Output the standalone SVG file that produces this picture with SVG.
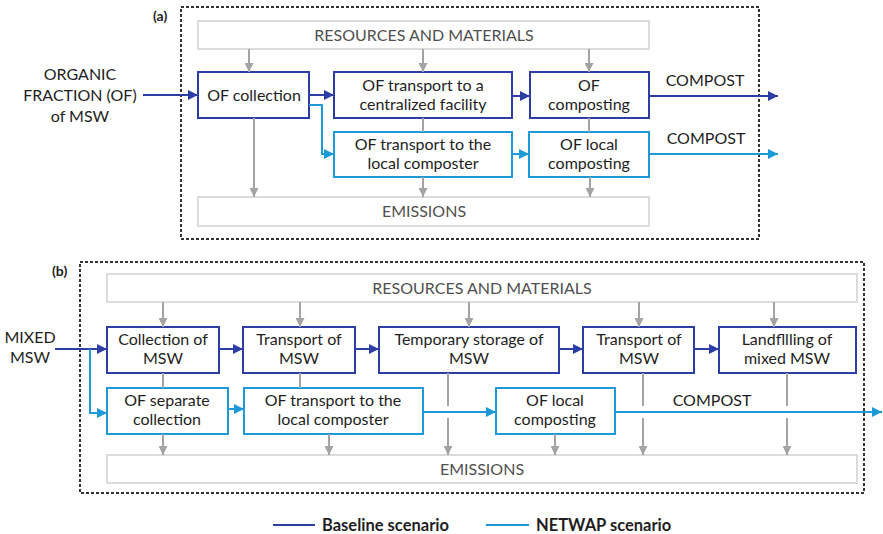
<svg xmlns="http://www.w3.org/2000/svg" width="883" height="534" viewBox="0 0 883 534">
  <defs>
    <marker id="ah-dark" viewBox="0 0 10 10" refX="10" refY="5" markerWidth="10" markerHeight="10" markerUnits="userSpaceOnUse" orient="auto">
      <path d="M0,0 L10,5 L0,10 z" fill="#2c3ea6"/>
    </marker>
    <marker id="ah-light" viewBox="0 0 10 10" refX="10" refY="5" markerWidth="10" markerHeight="10" markerUnits="userSpaceOnUse" orient="auto">
      <path d="M0,0 L10,5 L0,10 z" fill="#1b9ad7"/>
    </marker>
    <marker id="ah-gray" viewBox="0 0 10 10" refX="10" refY="5" markerWidth="9" markerHeight="9" markerUnits="userSpaceOnUse" orient="auto">
      <path d="M0,0 L10,5 L0,10 z" fill="#a3a3a3"/>
    </marker>
  </defs>
  <style>
    text { font-family: Lato, "Open Sans", "Liberation Sans", sans-serif; fill: #1e1e1e; }
    .lbl { font-size: 16px; text-anchor: middle; }
    .band-t { font-size: 16px; text-anchor: middle; fill: #505050; }
    .tag { font-size: 14px; font-weight: bold; }
    .leg { font-size: 16.5px; font-weight: bold; }
    .frame { fill: none; stroke: #333; stroke-width: 2; stroke-dasharray: 3 2; }
    .band { fill: #fff; stroke: #dcdcdc; stroke-width: 2; }
    .base { fill: #fff; stroke: #2c3ea6; stroke-width: 2; }
    .netw { fill: #fff; stroke: #1b9ad7; stroke-width: 2; }
    .c-dark { fill: none; stroke: #2c3ea6; stroke-width: 2; marker-end: url(#ah-dark); }
    .c-light { fill: none; stroke: #1b9ad7; stroke-width: 2; marker-end: url(#ah-light); }
    .c-gray { fill: none; stroke: #a3a3a3; stroke-width: 2; marker-end: url(#ah-gray); }
    .l-gray { fill: none; stroke: #a3a3a3; stroke-width: 2; }
  </style>

  <!-- Panel (a) -->
  <g id="panel-a">
    <rect class="frame" x="181" y="7" width="578" height="232"/>
    <text class="tag" x="153" y="21">(a)</text>
  </g>
  <g id="a-resources"><rect class="band" x="198" y="21" width="451" height="28"/><text class="band-t" x="424" y="41">RESOURCES AND MATERIALS</text></g>
  <g id="a-emissions"><rect class="band" x="198" y="197" width="451" height="29"/><text class="band-t" x="424" y="217">EMISSIONS</text></g>
  <g id="a-input"><text class="lbl" x="80" y="80">ORGANIC</text><text class="lbl" x="80" y="101">FRACTION (OF)</text><text class="lbl" x="80" y="122">of MSW</text></g>
  <g id="a-collection"><rect class="base" x="198" y="72" width="111" height="46"/><text class="lbl" x="254" y="101">OF collection</text></g>
  <g id="a-transport-central"><rect class="base" x="334" y="72" width="178" height="46"/><text class="lbl" x="423" y="91">OF transport to a</text><text class="lbl" x="423" y="110">centralized facility</text></g>
  <g id="a-composting"><rect class="base" x="530" y="72" width="119" height="46"/><text class="lbl" x="589" y="91">OF</text><text class="lbl" x="589" y="110">composting</text></g>
  <g id="a-transport-local"><rect class="netw" x="334" y="132" width="178" height="45"/><text class="lbl" x="423" y="150">OF transport to the</text><text class="lbl" x="423" y="169">local composter</text></g>
  <g id="a-local-composting"><rect class="netw" x="529" y="132" width="120" height="45"/><text class="lbl" x="589" y="150">OF local</text><text class="lbl" x="589" y="169">composting</text></g>
  <g id="a-compost-labels"><text class="lbl" x="705" y="86">COMPOST</text><text class="lbl" x="706" y="144">COMPOST</text></g>

  <!-- Panel (b) -->
  <g id="panel-b">
    <rect class="frame" x="80" y="262" width="784" height="231"/>
    <text class="tag" x="52" y="276">(b)</text>
  </g>
  <g id="b-resources"><rect class="band" x="107" y="274" width="750" height="28"/><text class="band-t" x="482" y="294">RESOURCES AND MATERIALS</text></g>
  <g id="b-emissions"><rect class="band" x="107" y="455" width="750" height="28"/><text class="band-t" x="482" y="475">EMISSIONS</text></g>
  <g id="b-input"><text class="lbl" x="30" y="343">MIXED</text><text class="lbl" x="30" y="363">MSW</text></g>
  <g id="b-collection"><rect class="base" x="107" y="327" width="112" height="46"/><text class="lbl" x="163" y="345">Collection of</text><text class="lbl" x="163" y="364">MSW</text></g>
  <g id="b-transport1"><rect class="base" x="243" y="327" width="112" height="46"/><text class="lbl" x="299" y="345">Transport of</text><text class="lbl" x="299" y="364">MSW</text></g>
  <g id="b-storage"><rect class="base" x="379" y="327" width="180" height="46"/><text class="lbl" x="469" y="345">Temporary storage of</text><text class="lbl" x="469" y="364">MSW</text></g>
  <g id="b-transport2"><rect class="base" x="583" y="327" width="111" height="46"/><text class="lbl" x="639" y="345">Transport of</text><text class="lbl" x="639" y="364">MSW</text></g>
  <g id="b-landfill"><rect class="base" x="719" y="327" width="137" height="46"/><text class="lbl" x="787" y="345">Landfllling of</text><text class="lbl" x="787" y="364">mixed MSW</text></g>
  <g id="b-of-collection"><rect class="netw" x="107" y="388" width="121" height="46"/><text class="lbl" x="167" y="406">OF separate</text><text class="lbl" x="167" y="425">collection</text></g>
  <g id="b-of-transport"><rect class="netw" x="244" y="388" width="179" height="46"/><text class="lbl" x="333" y="406">OF transport to the</text><text class="lbl" x="333" y="425">local composter</text></g>
  <g id="b-local-composting"><rect class="netw" x="496" y="388" width="119" height="46"/><text class="lbl" x="555" y="406">OF local</text><text class="lbl" x="555" y="425">composting</text></g>
  <g id="b-compost-label"><text class="lbl" x="712" y="406">COMPOST</text></g>

  <!-- Legend -->
  <g id="legend">
    <line x1="273" y1="525" x2="315" y2="525" stroke="#2c3ea6" stroke-width="2"/>
    <text class="leg" x="322" y="531">Baseline scenario</text>
    <line x1="486" y1="525" x2="529" y2="525" stroke="#1b9ad7" stroke-width="2"/>
    <text class="leg" x="536" y="531">NETWAP scenario</text>
  </g>

  <g id="connectors">
    <!-- (a) gray resource/emission flows -->
    <line class="c-gray" x1="249" y1="49" x2="249" y2="72"/>
    <line class="c-gray" x1="423" y1="49" x2="423" y2="72"/>
    <line class="c-gray" x1="589" y1="49" x2="589" y2="72"/>
    <line class="c-gray" x1="254" y1="118" x2="254" y2="197"/>
    <line class="l-gray" x1="423" y1="118" x2="423" y2="132"/>
    <line class="c-gray" x1="423" y1="177" x2="423" y2="197"/>
    <line class="l-gray" x1="589" y1="118" x2="589" y2="132"/>
    <line class="c-gray" x1="590" y1="177" x2="590" y2="197"/>
    <!-- (a) baseline -->
    <line class="c-dark" x1="143" y1="95" x2="198" y2="95"/>
    <line class="c-dark" x1="309" y1="95" x2="334" y2="95"/>
    <line class="c-dark" x1="512" y1="96" x2="530" y2="96"/>
    <line class="c-dark" x1="649" y1="96" x2="778" y2="96"/>
    <!-- (a) NETWAP -->
    <polyline class="c-light" points="309,105 322,105 322,154 334,154"/>
    <line class="c-light" x1="512" y1="154" x2="529" y2="154"/>
    <line class="c-light" x1="649" y1="154" x2="778" y2="154"/>

    <!-- (b) gray resource/emission flows -->
    <line class="c-gray" x1="163" y1="302" x2="163" y2="327"/>
    <line class="c-gray" x1="300" y1="302" x2="300" y2="327"/>
    <line class="c-gray" x1="469" y1="302" x2="469" y2="327"/>
    <line class="c-gray" x1="639" y1="302" x2="639" y2="327"/>
    <line class="c-gray" x1="774" y1="302" x2="774" y2="327"/>
    <line class="l-gray" x1="163" y1="373" x2="163" y2="388"/>
    <line class="c-gray" x1="163" y1="434" x2="163" y2="455"/>
    <line class="l-gray" x1="300" y1="373" x2="300" y2="388"/>
    <line class="c-gray" x1="329" y1="434" x2="329" y2="455"/>
    <line class="l-gray" x1="448" y1="373" x2="448" y2="406"/>
    <line class="c-gray" x1="448" y1="418" x2="448" y2="455"/>
    <line class="l-gray" x1="643" y1="373" x2="643" y2="406"/>
    <line class="c-gray" x1="643" y1="418" x2="643" y2="455"/>
    <line class="l-gray" x1="787" y1="373" x2="787" y2="406"/>
    <line class="c-gray" x1="787" y1="418" x2="787" y2="455"/>
    <line class="c-gray" x1="555" y1="434" x2="555" y2="455"/>
    <!-- (b) baseline -->
    <line class="c-dark" x1="55" y1="349" x2="107" y2="349"/>
    <line class="c-dark" x1="219" y1="349" x2="243" y2="349"/>
    <line class="c-dark" x1="355" y1="349" x2="379" y2="349"/>
    <line class="c-dark" x1="559" y1="349" x2="583" y2="349"/>
    <line class="c-dark" x1="694" y1="349" x2="719" y2="349"/>
    <!-- (b) NETWAP -->
    <polyline class="c-light" points="90,349 90,413 107,413"/>
    <line class="c-light" x1="228" y1="409" x2="244" y2="409"/>
    <line class="c-light" x1="423" y1="412" x2="496" y2="412"/>
    <line class="c-light" x1="615" y1="412" x2="882" y2="412"/>
  </g>
</svg>
